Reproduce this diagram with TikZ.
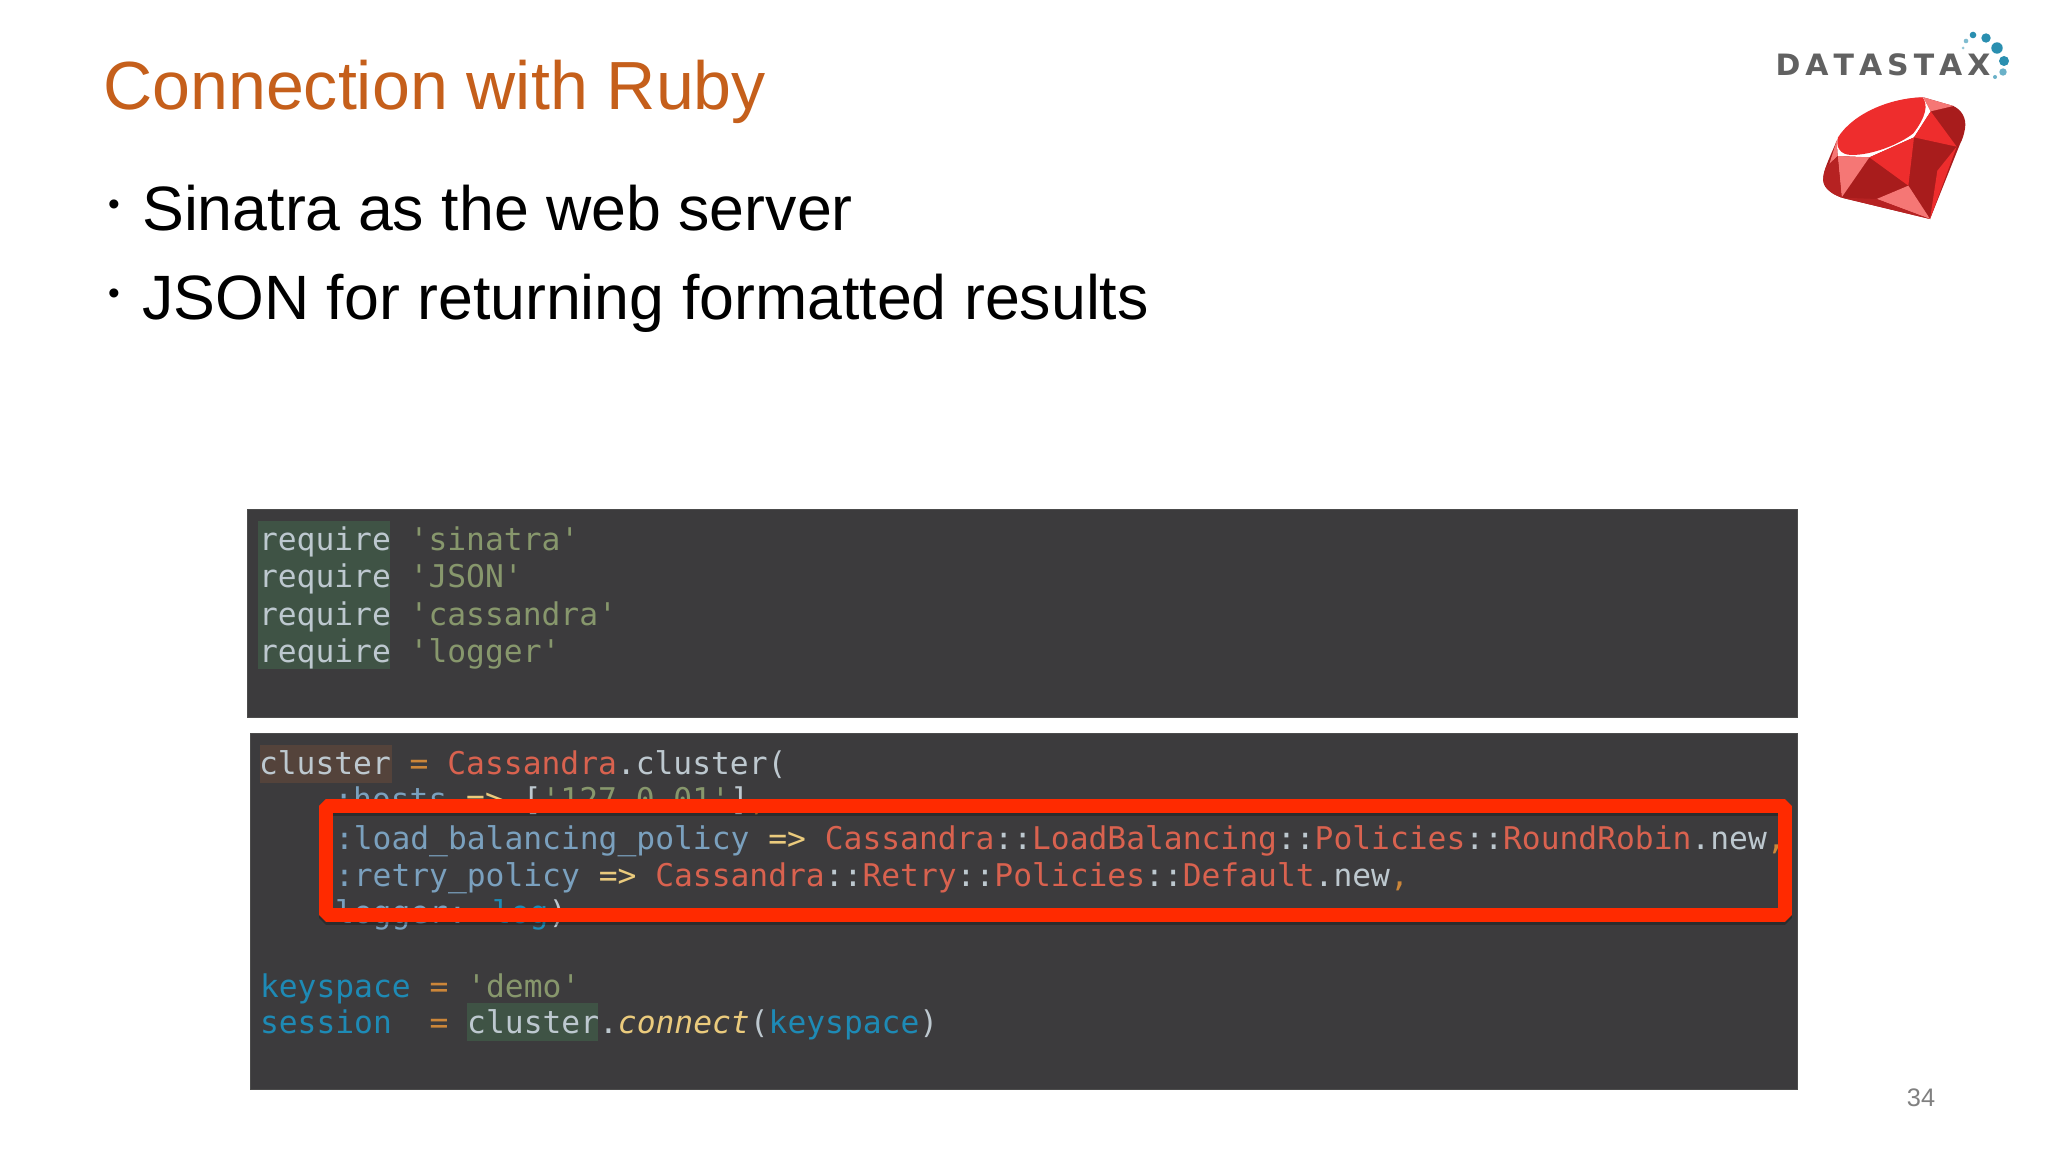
\documentclass[tikz,border=0pt]{standalone}
\usepackage{fontspec}
\setmainfont{Liberation Sans}
\newfontfamily\codefont{DejaVu Sans Mono}
\newfontfamily\logofont{DejaVu Sans}
\definecolor{panelbg}{HTML}{3C3B3D}
\definecolor{titleorange}{HTML}{C55F1B}
\definecolor{boxred}{HTML}{FF2A00}
\definecolor{cplain}{HTML}{BDC8CF}
\definecolor{cstr}{HTML}{87976C}
\definecolor{cred}{HTML}{D9624F}
\definecolor{csym}{HTML}{7AA0BE}
\definecolor{cop}{HTML}{CC8639}
\definecolor{carrow}{HTML}{EBCB7D}
\definecolor{cvar}{HTML}{1E8AB5}
\definecolor{hlgreen}{HTML}{3F5345}
\definecolor{hlbrown}{HTML}{54433B}
\definecolor{rubyred}{HTML}{EE2D2D}
\definecolor{rubydark}{HTML}{A81C1C}
\definecolor{rubymid}{HTML}{B62222}
\definecolor{rubylight}{HTML}{F57775}
\definecolor{dotteal}{HTML}{2A8FB0}
\newcommand{\Cp}[1]{\textcolor{cplain}{#1}}
\newcommand{\Cs}[1]{\textcolor{cstr}{#1}}
\newcommand{\Cr}[1]{\textcolor{cred}{#1}}
\newcommand{\Cy}[1]{\textcolor{csym}{#1}}
\newcommand{\Co}[1]{\textcolor{cop}{#1}}
\newcommand{\Ca}[1]{\textcolor{carrow}{#1}}
\newcommand{\Cv}[1]{\textcolor{cvar}{#1}}
\tikzset{
  codeline/.style={anchor=base west,inner sep=0pt,outer sep=0pt,font=\codefont\fontsize{23.47pt}{28pt}\selectfont},
  panel/.style={fill=panelbg,draw=gray!60!black,line width=0.3pt},
  bullettext/.style={anchor=base west,inner sep=0pt,font=\fontsize{47pt}{56pt}\selectfont,text=black},
  bulletdot/.style={anchor=center,inner sep=0pt,font=\fontsize{25pt}{28pt}\selectfont,text=black}
}
\begin{document}
\begin{tikzpicture}[x=0.75pt,y=-0.75pt]
\useasboundingbox (0,0) rectangle (2048,1152);
\fill[white] (0,0) rectangle (2048,1152);
% title and bullets
\node[anchor=base west,inner sep=0pt,font=\fontsize{51.1pt}{60pt}\selectfont,text=titleorange] (title) at (103,110) {Connection with Ruby};
\node[bulletdot] (b1) at (114,208) {•};
\node[bullettext] (t1) at (142,230) {Sinatra as the web server};
\node[bulletdot] (b2) at (114,297) {•};
\node[bullettext] (t2) at (142,319) {JSON for returning formatted results};
% panels
\draw[panel] (247,509) rectangle (1797,717);
\draw[panel] (250,733) rectangle (1797,1089);
% highlights
\fill[hlgreen] (258,521) rectangle (390,669);
\fill[hlbrown] (260,745) rectangle (392,783);
\fill[hlgreen] (467,1003) rectangle (598,1041);
% code top
\node[codeline] (r1) at (259,550) {\Cp{require} \Cs{'sinatra'}};
\node[codeline] (r2) at (259,587) {\Cp{require} \Cs{'JSON'}};
\node[codeline] (r3) at (259,625) {\Cp{require} \Cs{'cassandra'}};
\node[codeline] (r4) at (259,662) {\Cp{require} \Cs{'logger'}};
% code bottom
\node[codeline] (c1) at (259,774) {\Cp{cluster} \Co{=} \Cr{Cassandra}\Cp{.cluster(}};
\node[codeline] (c2) at (259,810) {\Cp{~~~~}\Cy{:hosts} \Ca{=>} \Cp{[}\Cs{'127.0.01'}\Cp{]}\Co{,}};
\node[codeline] (c3) at (335,849) {\Cy{:load\_balancing\_policy} \Ca{=>} \Cr{Cassandra}\Cp{::}\Cr{LoadBalancing}\Cp{::}\Cr{Policies}\Cp{::}\Cr{RoundRobin}\Cp{.new}\Co{,}};
\node[codeline] (c4) at (335,886) {\Cy{:retry\_policy} \Ca{=>} \Cr{Cassandra}\Cp{::}\Cr{Retry}\Cp{::}\Cr{Policies}\Cp{::}\Cr{Default}\Cp{.new}\Co{,}};
\node[codeline] (c5) at (335,923) {\Cy{logger:} \Cv{log}\Cp{)}};
\node[codeline] (c6) at (260,997) {\Cv{keyspace} \Co{=} \Cs{'demo'}};
\node[codeline] (c7) at (260,1033) {\Cv{session}~~\Co{=} \Cp{cluster.}\textcolor{carrow}{\itshape connect}\Cp{(}\Cv{keyspace}\Cp{)}};
% red box
\draw[black,opacity=0.25,line width=10.9pt,line join=bevel] (326,809) rectangle (1785,918);
\draw[boxred,line width=10.9pt,line join=bevel] (326,806) rectangle (1785,915);
% logo text
\node[anchor=center,inner sep=0pt,text=black!62,font=\logofont\bfseries\fontsize{21pt}{24pt}\selectfont] (logo) at (1883,65) {\scalebox{1.07}[1.05]{D\,A\,T\,A\,S\,T\,A\,X}};
% logo dots
\foreach \dx/\dy/\dr/\dc in {1973/35/3.3/dotteal, 1986/38/4.7/dotteal, 1997/48/5.7/dotteal, 2004/61/5/dotteal, 2003/72/3.7/dotteal!70, 1995/77/2/dotteal!70, 1966/41/2.3/dotteal!60, 1963/48/1.5/dotteal!50}
  \fill[\dc] (\dx,\dy) circle[radius=\dr*0.75pt];
% ruby
\begin{scope}[shift={(1740,20)},x=0.25pt,y=-0.25pt]
\fill[rubydark] (550,232) -- (640,258) .. controls (665,270) and (680,295) .. (675,325) .. controls (672,345) and (667,358) .. (660,372) -- (570,597) -- (305,533) .. controls (270,520) and (245,500) .. (250,470) .. controls (252,445) and (275,400) .. (290,362) .. controls (340,285) and (450,235) .. (550,232) -- cycle;
\fill[white] (290,362) .. controls (340,285) and (450,235) .. (550,232) -- (572,274) -- (522,352) -- (388,412) -- (293,408) -- cycle;
\fill[rubyred] (294,352) .. controls (340,280) and (450,234) .. (548,232) .. controls (565,255) and (558,290) .. (520,340) .. controls (475,375) and (395,405) .. (335,405) .. controls (300,405) and (286,380) .. (294,352) -- cycle;
\fill[rubylight] (550,232) -- (640,258) -- (572,274) -- cycle;
\fill[rubyred] (572,274) -- (650,380) -- (522,352) -- cycle;
\fill[rubyred] (650,380) -- (570,597) -- (592,452) -- cycle;
\fill[rubyred] (522,352) -- (505,497) -- (388,412) -- cycle;
\fill[rubylight] (293,408) -- (388,412) -- (305,532) -- cycle;
\fill[rubylight] (290,362) -- (293,408) -- (268,432) -- cycle;
\fill[rubymid] (293,408) -- (305,533) .. controls (270,520) and (245,500) .. (250,470) .. controls (252,450) and (262,430) .. (268,432) -- cycle;
\fill[rubylight] (505,497) -- (570,597) -- (410,537) -- cycle;
\fill[rubymid] (305,533) -- (410,537) -- (570,597) -- cycle;
\end{scope}
% page number
\node[anchor=center,inner sep=0pt,text=black!50,font=\fontsize{19pt}{22pt}\selectfont] (page) at (1921,1098) {34};
\end{tikzpicture}
\end{document}
